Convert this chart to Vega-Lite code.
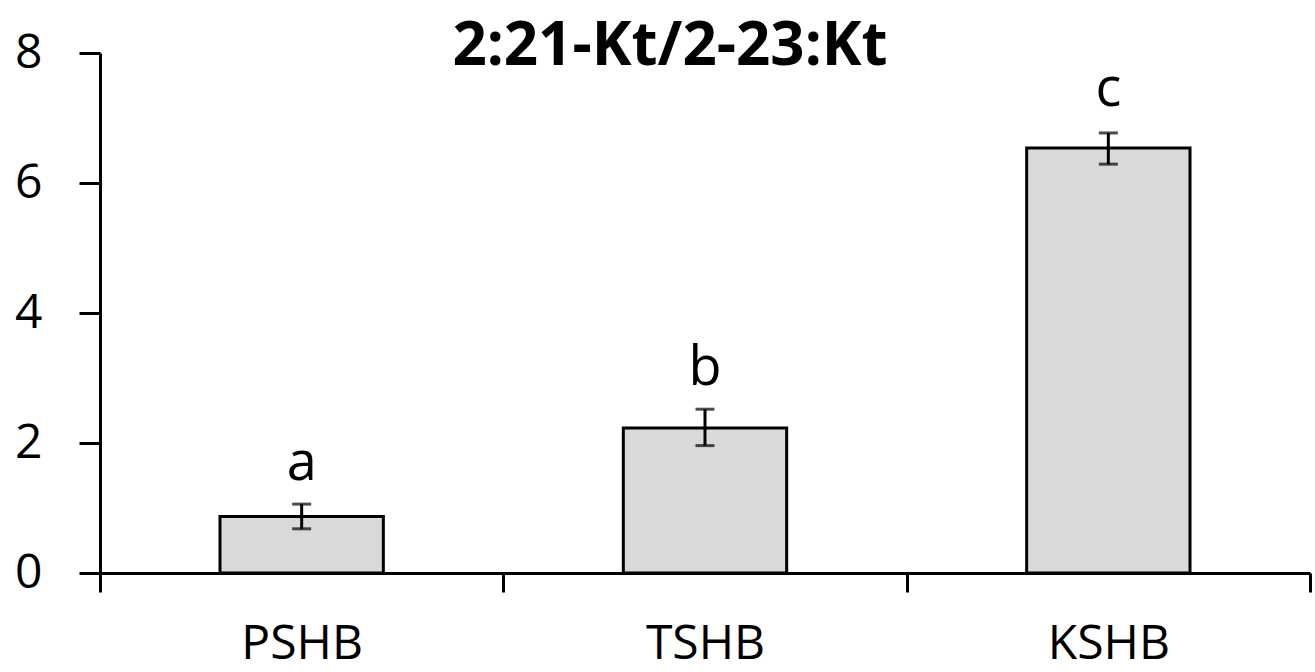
{
  "$schema": "https://vega.github.io/schema/vega-lite/v6.json",
  "autosize": {"type": "none"},
  "padding": {"left": 100, "top": 53, "right": 5, "bottom": 99},
  "width": 1210,
  "height": 520,
  "background": "white",
  "title": {
    "text": "2:21-Kt/2-23:Kt",
    "font": "Open Sans",
    "fontSize": 60,
    "fontWeight": "bold",
    "color": "black",
    "anchor": "middle",
    "frame": "group",
    "baseline": "alphabetic",
    "offset": -96,
    "dx": -35
  },
  "data": {
    "values": [
      {"group": "PSHB", "mean": 0.87, "lo": 0.68, "hi": 1.06, "letter": "a", "ly": 1.43},
      {"group": "TSHB", "mean": 2.23, "lo": 1.96, "hi": 2.52, "letter": "b", "ly": 2.9},
      {"group": "KSHB", "mean": 6.54, "lo": 6.29, "hi": 6.77, "letter": "c", "ly": 7.18}
    ]
  },
  "encoding": {
    "x": {
      "field": "group",
      "type": "nominal",
      "sort": ["PSHB", "TSHB", "KSHB"],
      "scale": {"paddingInner": 0, "paddingOuter": 0},
      "axis": {
        "title": null,
        "labelAngle": 0,
        "tickBand": "extent",
        "tickSize": 19,
        "labelPadding": 28,
        "labelFontSize": 48,
        "labelFont": "Open Sans"
      }
    }
  },
  "layer": [
    {
      "mark": {"type": "bar", "width": {"band": 0.405}, "fill": "#d9d9d9", "stroke": "black", "strokeWidth": 3},
      "encoding": {
        "y": {
          "field": "mean",
          "type": "quantitative",
          "scale": {"domain": [0, 8], "nice": false},
          "axis": {
            "title": null,
            "values": [0, 2, 4, 6, 8],
            "format": "d",
            "tickSize": 21,
            "labelPadding": 37,
            "labelFontSize": 48,
            "labelFont": "Open Sans",
            "grid": false
          }
        }
      }
    },
    {
      "mark": {"type": "rule", "color": "black", "strokeWidth": 3},
      "encoding": {
        "y": {"field": "lo", "type": "quantitative"},
        "y2": {"field": "hi"}
      }
    },
    {
      "mark": {"type": "tick", "color": "black", "size": 19, "thickness": 3},
      "encoding": {"y": {"field": "lo", "type": "quantitative"}}
    },
    {
      "mark": {"type": "tick", "color": "black", "size": 19, "thickness": 3},
      "encoding": {"y": {"field": "hi", "type": "quantitative"}}
    },
    {
      "mark": {"type": "text", "font": "Open Sans", "fontSize": 54, "baseline": "alphabetic", "align": "center", "color": "black"},
      "encoding": {
        "y": {"field": "ly", "type": "quantitative"},
        "text": {"field": "letter"}
      }
    }
  ],
  "config": {
    "view": {"stroke": null},
    "axis": {
      "domainColor": "black",
      "domainWidth": 3,
      "tickColor": "black",
      "tickWidth": 3,
      "labelColor": "black",
      "grid": false
    }
  }
}
